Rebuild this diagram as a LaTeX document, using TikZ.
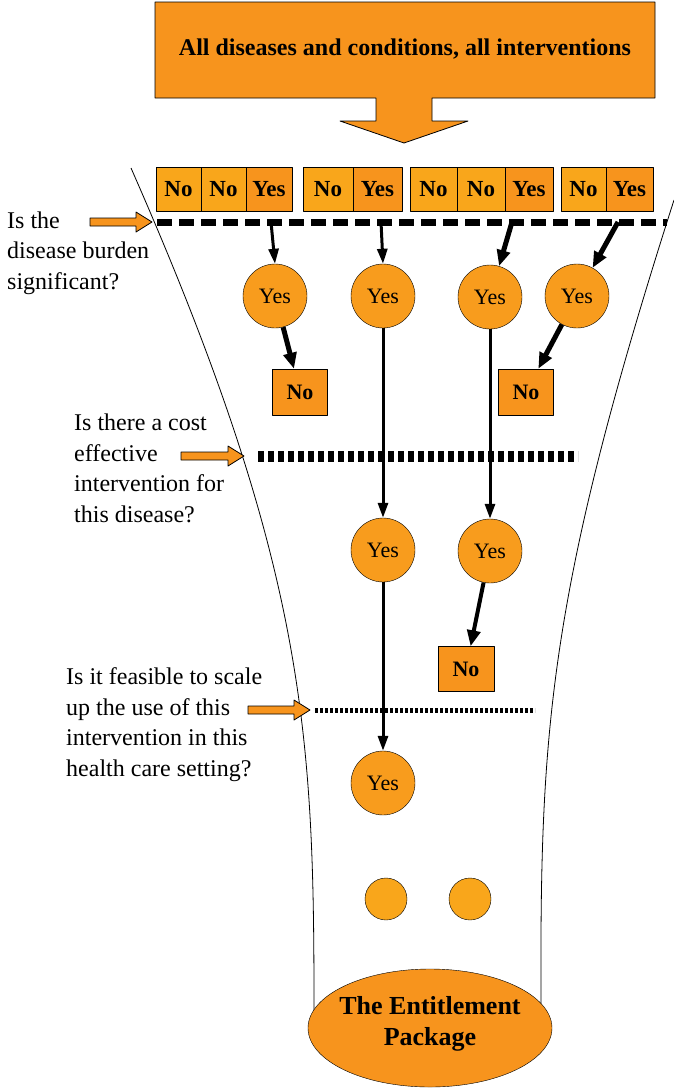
\documentclass[tikz,border=0pt]{standalone}
\usepackage{fontspec}
\setmainfont{Liberation Serif}
\usetikzlibrary{arrows.meta,shapes.geometric}
\definecolor{ornDark}{HTML}{F7941D}
\definecolor{ornMid}{HTML}{F89C1D}
\definecolor{ornLight}{HTML}{F9A61B}
\begin{document}
\begin{tikzpicture}[x=1pt, y=-1pt, line join=round,
    cell/.style={draw, fill=ornLight, minimum height=44pt, inner sep=0pt,
      font=\fontsize{23}{27}\selectfont\bfseries},
    dot/.style={circle, draw, fill=ornMid, minimum size=64pt, inner sep=0pt,
      font=\fontsize{22}{26}\selectfont},
    nobox/.style={draw, fill=ornDark, minimum width=55pt, minimum height=46pt,
      font=\fontsize{22}{26}\selectfont\bfseries},
    question/.style={anchor=base west, align=left, inner sep=0pt,
      font=\fontsize{24}{30.5}\selectfont},
    flow/.style={line width=3pt, -{Triangle[length=15pt,width=10pt]}},
    bold flow/.style={line width=5pt, -{Triangle[length=16pt,width=13pt]}}]
  \useasboundingbox (0,0) rectangle (674,1088);
  % funnel
  \draw[line width=0.8pt] (131,168) .. controls (307,568) and (314,735) .. (314,1010);
  \draw[line width=0.8pt] (674,200) .. controls (546,600) and (540,735) .. (541,1010);
  % big arrow on top
  \draw[fill=ornDark, line width=0.8pt] (155,2) -- (655,2) -- (655,98) -- (432,98) -- (432,121)
    -- (468,121) -- (404,143) -- (340,121) -- (376,121) -- (376,98) -- (155,98) -- cycle;
  \node[font=\fontsize{24}{28}\selectfont\bfseries] (all) at (405,49)
    {All diseases and conditions, all interventions};
  % row of answers
  \foreach \x/\w/\t/\c [count=\i] in {178.5/45/No/ornLight, 223.5/45/No/ornLight, 269/46/Yes/ornDark,
      328/50/No/ornLight, 377.5/49/Yes/ornDark,
      433.5/47/No/ornLight, 481/48/No/ornLight, 529/48/Yes/ornDark,
      583.5/45/No/ornLight, 629.5/47/Yes/ornDark}
    \node[cell, fill=\c, minimum width=\w pt] (b\i) at (\x,189) {\t};
  % the three filters
  \draw[line width=7pt, dash pattern=on 15pt off 7pt] (157,222) -- (667,222);
  \draw[line width=11pt, dash pattern=on 6pt off 4pt] (258,456) -- (578,456);
  \draw[line width=5pt, dash pattern=on 3pt off 2pt] (315,710) -- (535,710);
  \foreach \xa/\xb/\yy in {90/152/222, 181/244/456, 248/310/710}
    \draw[fill=ornDark, line width=0.8pt] (\xa,{\yy-4}) -- ({\xb-16},{\yy-4}) -- ({\xb-16},{\yy-10})
      -- (\xb,\yy) -- ({\xb-16},{\yy+10}) -- ({\xb-16},{\yy+4}) -- (\xa,{\yy+4}) -- cycle;
  \node[question] (q1) at (7,289) {Is the\\disease burden\\significant?};
  \node[question] (q2) at (74,522) {Is there a cost\\effective\\intervention for\\this disease?};
  \node[question] (q3) at (66,776) {Is it feasible to scale\\up the use of this\\intervention in this\\health care setting?};
  % decisions
  \coordinate (d1) at (271,222);
  \coordinate (d2) at (381,222);
  \coordinate (d3) at (512,222);
  \coordinate (d4) at (618,222);
  \node[dot] (y1) at (275,296) {Yes};
  \node[dot] (y2) at (383,296) {Yes};
  \node[dot] (y3) at (490,297) {Yes};
  \node[dot] (y4) at (577,296) {Yes};
  \node[nobox] (n1) at (300,392) {No};
  \node[nobox] (n2) at (526,392) {No};
  \node[dot] (y5) at (383,550) {Yes};
  \node[dot] (y6) at (490,551) {Yes};
  \node[nobox, minimum width=56pt, minimum height=45pt] (n3) at (466,669) {No};
  \node[dot] (y7) at (383,783) {Yes};
  \node[dot, fill=ornLight, minimum size=42pt] (s1) at (386,899) {};
  \node[dot, fill=ornLight, minimum size=42pt] (s2) at (470,899) {};
  \node[ellipse, draw, fill=ornDark, minimum width=244pt, minimum height=118pt, inner sep=0pt]
    (pkg) at (430,1028) {};
  \node[align=center, font=\fontsize{26}{31}\selectfont\bfseries] (pkgtext) at ([yshift=4pt]pkg)
    {The Entitlement\\Package};
  \draw[flow] (d1) -- (y1.north);
  \draw[flow] (d2) -- (y2.north);
  \draw[bold flow] (d3) -- (y3);
  \draw[bold flow] (d4) -- (y4);
  \draw[bold flow] (y1) -- (n1);
  \draw[bold flow] (y4) -- (n2);
  \draw[flow] (y2) -- (y5);
  \draw[flow] (y3) -- (y6);
  \draw[bold flow, line width=4pt] (y6) -- (n3);
  \draw[flow] (y5) -- (y7);
\end{tikzpicture}
\end{document}
